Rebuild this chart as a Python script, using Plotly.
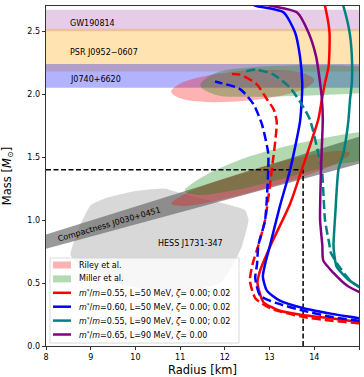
import plotly.graph_objects as go

# ---------------- data ----------------
# horizontal mass bands (M_sun)
band_names = ["GW190814", "PSR J0952\u22120607", "J0740+6620"]
band_lo = [2.50, 2.18, 2.05]
band_hi = [2.67, 2.52, 2.24]
band_colors = ["rgba(128,0,128,0.2)", "rgba(255,165,0,0.3)", "rgba(0,0,255,0.3)"]
band_label_M = [2.565, 2.33, 2.115]

# HESS J1731-347 region (R km, M)
hess_R = [8.55, 8.75, 9.0, 9.3, 10.0, 10.65, 10.95, 11.5, 12.0, 12.45, 12.53, 12.38, 12.15, 11.9, 11.4, 10.5, 9.5, 8.9]
hess_M = [0.72, 0.95, 1.12, 1.17, 1.23, 1.25, 1.22, 1.17, 1.13, 1.08, 1.0, 0.79, 0.62, 0.50, 0.45, 0.44, 0.50, 0.60]

# compactness band J0030+0451 (GM/Rc^2)
comp_lo = 0.1425
comp_hi = 0.1635
comp_R = [8.0, 15.0]
GM_SUN_KM = 1.4766

# Riley et al. contours (J0030, J0740)
riley_j0030_R = [14.8, 14.53, 13.8, 12.8, 11.8, 11.07, 10.8, 11.07, 11.8, 12.8, 13.8, 14.53]
riley_j0030_M = [1.53, 1.548, 1.508, 1.42, 1.308, 1.202, 1.13, 1.112, 1.152, 1.24, 1.352, 1.458]
riley_j0740_R = [14.0, 13.786, 13.2, 12.4, 11.6, 11.014, 10.8, 11.014, 11.6, 12.4, 13.2, 13.786]
riley_j0740_M = [2.11, 2.164, 2.19, 2.185, 2.146, 2.086, 2.02, 1.966, 1.938, 1.945, 1.983, 2.044]

# Miller et al. contours (J0030, J0740)
miller_j0030_R = [15.5, 15.21, 14.4, 13.3, 12.2, 11.39, 11.1, 11.39, 12.2, 13.3, 14.4, 15.21]
miller_j0030_M = [1.67, 1.70, 1.664, 1.58, 1.46, 1.32, 1.23, 1.20, 1.236, 1.33, 1.436, 1.50]
miller_j0740_R = [16.35, 16.02, 15.125, 13.9, 12.675, 11.78, 11.45, 11.78, 12.675, 13.9, 15.125, 16.02]
miller_j0740_M = [2.11, 2.17, 2.22, 2.23, 2.215, 2.165, 2.07, 1.995, 1.98, 1.99, 2.01, 2.05]

# mass-radius curves
red_R = [15.3, 15.0, 14.5, 13.76, 13.23, 12.86, 12.73, 12.79, 13.05, 13.46, 13.72, 14.09, 14.17, 14.24, 14.32, 14.34, 14.24, 14.2]
red_M = [0.17, 0.19, 0.215, 0.245, 0.28, 0.35, 0.50, 0.60, 0.82, 1.13, 1.40, 1.80, 1.96, 2.09, 2.22, 2.49, 2.70, 2.75]
red_d_R = [15.3, 15.0, 14.4, 13.76, 13.01, 12.68, 12.56, 12.62, 12.75, 12.9, 13.05, 13.16, 13.09, 12.94, 12.71, 12.34, 12.08]
red_d_M = [0.165, 0.18, 0.20, 0.23, 0.30, 0.38, 0.52, 0.65, 0.80, 1.0, 1.40, 1.78, 1.88, 1.96, 2.08, 2.155, 2.16]

blue_R = [15.3, 15.0, 14.4, 13.76, 13.23, 12.94, 12.85, 12.90, 13.01, 13.23, 13.46, 13.68, 13.72, 13.73, 13.68, 13.57, 13.31, 12.71, 12.4]
blue_M = [0.20, 0.22, 0.255, 0.30, 0.36, 0.44, 0.55, 0.65, 0.80, 1.11, 1.40, 1.78, 1.96, 2.09, 2.30, 2.49, 2.65, 2.70, 2.74]
blue_d_R = [15.3, 15.0, 14.4, 13.76, 13.16, 12.79, 12.68, 12.72, 12.75, 12.90, 12.97, 12.97, 12.83, 12.64, 12.34, 11.78]
blue_d_M = [0.185, 0.20, 0.23, 0.28, 0.34, 0.40, 0.54, 0.65, 0.80, 1.0, 1.40, 1.53, 1.76, 1.92, 2.04, 2.10]

teal_R = [15.3, 15.0, 14.75, 14.5, 14.45, 14.43, 14.47, 14.54, 14.65, 14.76, 14.8, 14.84, 14.84, 14.79, 14.65, 14.6]
teal_M = [0.40, 0.47, 0.53, 0.63, 0.72, 0.80, 1.05, 1.40, 1.53, 1.78, 1.96, 2.09, 2.30, 2.49, 2.70, 2.75]
teal_d_R = [15.3, 15.0, 14.8, 14.5, 14.36, 14.34, 14.24, 14.17, 14.09, 13.9, 13.68, 13.46, 13.09, 12.71, 12.45]
teal_d_M = [0.42, 0.47, 0.52, 0.66, 0.75, 0.80, 1.0, 1.40, 1.53, 1.80, 1.94, 2.05, 2.155, 2.195, 2.18]

purple_R = [15.3, 15.0, 14.73, 14.43, 14.2, 14.18, 14.13, 14.15, 14.19, 14.17, 14.13, 14.04, 13.87, 13.61, 13.05, 12.8]
purple_M = [0.39, 0.43, 0.48, 0.58, 0.68, 0.80, 1.0, 1.40, 1.80, 1.96, 2.09, 2.30, 2.49, 2.65, 2.70, 2.72]

# reference point (1.4 M_sun)
ref_R = 13.75
ref_M = 1.4

x_range = [8, 15]
y_range = [0, 2.7]
x_ticks = [8, 9, 10, 11, 12, 13, 14, 15]
y_ticks = [0.0, 0.5, 1.0, 1.5, 2.0, 2.5]

FONT = "DejaVu Sans"
W, H = 364, 377
ML, MR, MT, MB = 46, 5, 6, 31

fig = go.Figure()

# bands
for name, lo, hi, col in zip(band_names, band_lo, band_hi, band_colors):
    fig.add_trace(go.Scatter(x=[x_range[0], x_range[1], x_range[1], x_range[0]], y=[lo, lo, hi, hi],
                             fill="toself", fillcolor=col, line=dict(width=0), mode="lines",
                             showlegend=False, hoverinfo="skip"))

# HESS region
fig.add_trace(go.Scatter(x=hess_R + [hess_R[0]], y=hess_M + [hess_M[0]], fill="toself",
                         fillcolor="rgba(200,200,200,0.7)", line=dict(width=0, shape="spline", smoothing=0.4),
                         mode="lines", showlegend=False, hoverinfo="skip"))

# compactness band
cM_lo = [comp_lo * r / GM_SUN_KM for r in comp_R]
cM_hi = [comp_hi * r / GM_SUN_KM for r in comp_R]
fig.add_trace(go.Scatter(x=comp_R + comp_R[::-1], y=cM_lo + cM_hi[::-1], fill="toself",
                         fillcolor="rgba(105,105,105,0.68)", line=dict(width=0), mode="lines",
                         showlegend=False, hoverinfo="skip"))

RILEY_COL = "rgba(255,0,0,0.3)"
MILLER_COL = "rgba(0,128,0,0.3)"

def contour(R, M, col):
    fig.add_trace(go.Scatter(x=R + [R[0]], y=M + [M[0]], fill="toself", fillcolor=col,
                             line=dict(width=0, shape="spline", smoothing=1.0), mode="lines",
                             showlegend=False, hoverinfo="skip"))

contour(riley_j0030_R, riley_j0030_M, RILEY_COL)
contour(riley_j0740_R, riley_j0740_M, RILEY_COL)
contour(miller_j0030_R, miller_j0030_M, MILLER_COL)
contour(miller_j0740_R, miller_j0740_M, MILLER_COL)

# reference dashed lines
fig.add_trace(go.Scatter(x=[x_range[0], ref_R], y=[ref_M, ref_M], mode="lines",
                         line=dict(color="black", width=1.5, dash="5px,2.5px"), showlegend=False, hoverinfo="skip"))
fig.add_trace(go.Scatter(x=[ref_R, ref_R], y=[y_range[0], ref_M], mode="lines",
                         line=dict(color="black", width=1.5, dash="5px,2.5px"), showlegend=False, hoverinfo="skip"))

lab = "<i>m</i><sup>*</sup>/<i>m</i>={}, L={} MeV, <i>\u03b6</i>= {}"
curves = [
    (red_R, red_M, red_d_R, red_d_M, "red", lab.format("0.55", "50", "0.00; 0.02")),
    (blue_R, blue_M, blue_d_R, blue_d_M, "blue", lab.format("0.60", "50", "0.00; 0.02")),
    (teal_R, teal_M, teal_d_R, teal_d_M, "teal", lab.format("0.55", "90", "0.00; 0.02")),
    (purple_R, purple_M, None, None, "purple", lab.format("0.65", "90", "0.00")),
]
for R, M, dR, dM, col, name in curves:
    fig.add_trace(go.Scatter(x=R, y=M, mode="lines", name=name, showlegend=False,
                             line=dict(color=col, width=2.5, shape="spline", smoothing=0.6),
                             hoverinfo="skip"))
    if dR is not None:
        fig.add_trace(go.Scatter(x=dR, y=dM, mode="lines", showlegend=False,
                                 line=dict(color=col, width=2.5, dash="9px,4px", shape="spline", smoothing=0.6),
                                 hoverinfo="skip"))

# annotations
for name, m in zip(band_names, band_label_M):
    fig.add_annotation(x=8.5, y=m, text=name, showarrow=False, xanchor="left", yanchor="middle",
                       font=dict(family=FONT, size=8, color="black"))
fig.add_annotation(x=11.24, y=0.815, text="HESS J1731-347", showarrow=False,
                   font=dict(family=FONT, size=8, color="black"))
fig.add_annotation(x=9.41, y=0.965, text="Compactness J0030+0451", showarrow=False, textangle=-16,
                   font=dict(family=FONT, size=8, color="black"))

# ---- legend drawn in plot-area (paper) coordinates ----
PW = W - ML - MR
PH = H - MT - MB
def px(xp):
    return (xp - ML) / PW
def py(yp):
    return (H - MB - yp) / PH

fig.add_shape(type="rect", xref="paper", yref="paper", x0=px(50), x1=px(239), y0=py(343), y1=py(258),
              fillcolor="rgba(255,255,255,0.8)", line=dict(color="#d0d0d0", width=0.8), layer="above")
legend_items = [("patch", RILEY_COL, "Riley et al."), ("patch", MILLER_COL, "Miller et al.")] + \
               [("line", c[4], c[5]) for c in curves]
row0, dy = 265.0, 13.9
for i, (kind, col, text) in enumerate(legend_items):
    yc = row0 + i * dy
    if kind == "patch":
        fig.add_shape(type="rect", xref="paper", yref="paper", x0=px(53), x1=px(71), y0=py(yc + 3.5), y1=py(yc - 3.5),
                      fillcolor=col, line=dict(width=0), layer="above")
    else:
        fig.add_shape(type="line", xref="paper", yref="paper", x0=px(53), x1=px(71), y0=py(yc), y1=py(yc),
                      line=dict(color=col, width=2.5), layer="above")
    fig.add_annotation(xref="paper", yref="paper", x=px(77), y=py(yc), text=text, showarrow=False,
                       xanchor="left", yanchor="middle", font=dict(family=FONT, size=8, color="black"))

axis_common = dict(showgrid=False, zeroline=False, showline=True, linecolor="black", linewidth=0.8,
                   mirror=True, ticks="outside", ticklen=3.5, tickwidth=0.8, tickcolor="black",
                   automargin=False, tickfont=dict(family=FONT, size=8, color="black"))
fig.update_xaxes(range=x_range, tickvals=x_ticks,
                 title=dict(text="Radius [km]", font=dict(family=FONT, size=11.5, color="black")),
                 **axis_common)
fig.update_yaxes(range=y_range, tickvals=y_ticks, tickformat=".1f",
                 title=dict(text="Mass [<i>M</i><sub>\u2299</sub>]", font=dict(family=FONT, size=11.5, color="black")),
                 **axis_common)

fig.update_layout(
    width=W, height=H,
    margin=dict(l=ML, r=MR, t=MT, b=MB),
    plot_bgcolor="white", paper_bgcolor="white",
    showlegend=False,
)

fig.write_html("out.html", config={"displayModeBar": False, "staticPlot": True},
               post_script="document.body.style.margin='0px';")
